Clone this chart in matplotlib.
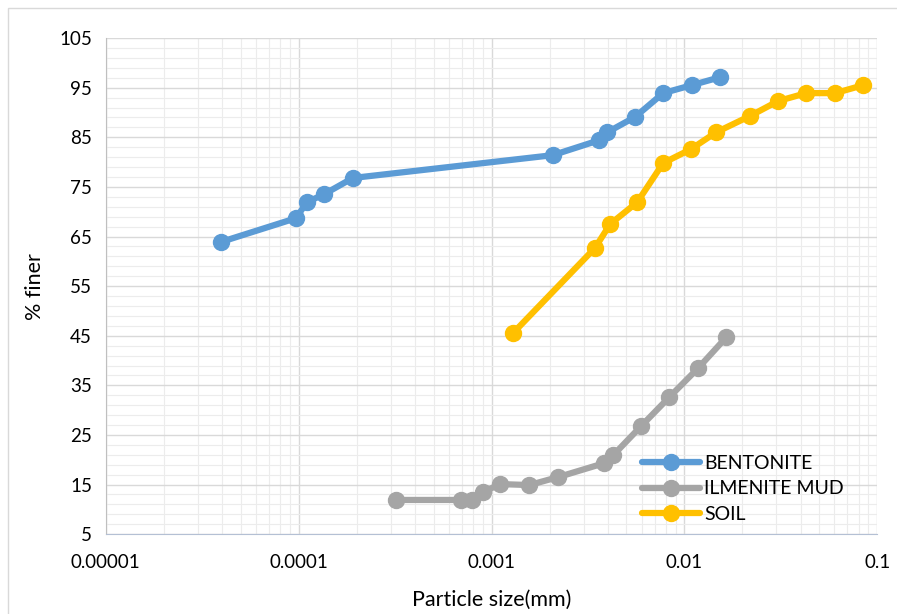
import matplotlib
matplotlib.use("Agg")
import matplotlib.pyplot as plt
from matplotlib.patches import Rectangle
from matplotlib.ticker import FixedLocator, LogLocator, NullFormatter

# particle size (mm) and % finer
bent_x = [3.95e-5, 9.7e-5, 1.10e-4, 1.35e-4, 1.91e-4, 2.08e-3, 3.61e-3, 3.98e-3,
          5.55e-3, 7.76e-3, 1.09e-2, 1.53e-2]
bent_y = [63.9, 68.7, 71.9, 73.5, 76.8, 81.4, 84.4, 86.0, 89.1, 93.9, 95.5, 97.1]

ilm_x = [3.2e-4, 6.95e-4, 7.93e-4, 9.04e-4, 1.11e-3, 1.57e-3, 2.21e-3, 3.83e-3,
         4.27e-3, 5.97e-3, 8.34e-3, 1.18e-2, 1.65e-2]
ilm_y = [11.9, 11.9, 11.8, 13.5, 15.1, 14.9, 16.5, 19.3, 20.9, 26.8, 32.6, 38.5, 44.7]

soil_x = [1.29e-3, 3.44e-3, 4.12e-3, 5.69e-3, 7.76e-3, 1.08e-2, 1.46e-2, 2.19e-2,
          3.06e-2, 4.28e-2, 6.05e-2, 8.45e-2]
soil_y = [45.5, 62.7, 67.5, 71.9, 79.8, 82.6, 86.0, 89.3, 92.3, 93.9, 93.9, 95.5]

x_ticks = [1e-5, 1e-4, 1e-3, 1e-2, 1e-1]
x_labels = ["0.00001", "0.0001", "0.001", "0.01", "0.1"]
y_ticks = list(range(5, 106, 10))

plt.rcParams['font.family'] = ['Lato', 'DejaVu Sans']

fig = plt.figure(figsize=(8.97, 6.14), dpi=100)
ax = fig.add_axes([0.118, 0.130, 0.860, 0.808])

# light frame round the whole chart
fig.patches.append(Rectangle((0.009, -0.01), 1.0, 0.997, transform=fig.transFigure,
                             fill=False, edgecolor='#d9d9d9', linewidth=1))

series = [
    (bent_x, bent_y, '#5B9BD5', 'BENTONITE'),
    (ilm_x, ilm_y, '#A5A5A5', 'ILMENITE MUD'),
    (soil_x, soil_y, '#FFC000', 'SOIL'),
]
for xs, ys, col, lab in series:
    ax.plot(xs, ys, color=col, linewidth=4.5, marker='o', markersize=11.5,
            markeredgecolor=col, label=lab, zorder=3, solid_capstyle='round')

ax.set_xscale('log')
ax.set_xlim(1e-5, 1e-1)
ax.set_ylim(5, 105)

ax.xaxis.set_major_locator(FixedLocator(x_ticks))
ax.set_xticks(x_ticks)
ax.set_xticklabels(x_labels)
ax.xaxis.set_minor_locator(LogLocator(base=10, subs=range(2, 10)))
ax.xaxis.set_minor_formatter(NullFormatter())
ax.set_yticks(y_ticks)
ax.yaxis.set_minor_locator(FixedLocator(range(5, 106, 2)))

ax.grid(which='major', color='#d9d9d9', linewidth=1)
ax.grid(which='minor', color='#ececec', linewidth=0.8)
ax.set_axisbelow(True)

for s in ['top', 'right']:
    ax.spines[s].set_visible(False)
ax.spines['left'].set_color('#bfbfbf')
ax.spines['bottom'].set_color('#b4c0d4')
ax.tick_params(which='both', length=0, labelsize=13.5)
ax.tick_params(axis='x', pad=14)
ax.tick_params(axis='y', pad=10)

ax.set_xlabel('Particle size(mm)', fontsize=15.5, labelpad=14)
ax.set_ylabel('% finer', fontsize=15.5, labelpad=10)

leg = ax.legend(loc='lower left', bbox_to_anchor=(0.68, 0.0), frameon=False,
                fontsize=14, handlelength=3.0, labelspacing=0.42,
                borderaxespad=0.2, handletextpad=0.2)

fig.savefig('out.png', dpi=100)
